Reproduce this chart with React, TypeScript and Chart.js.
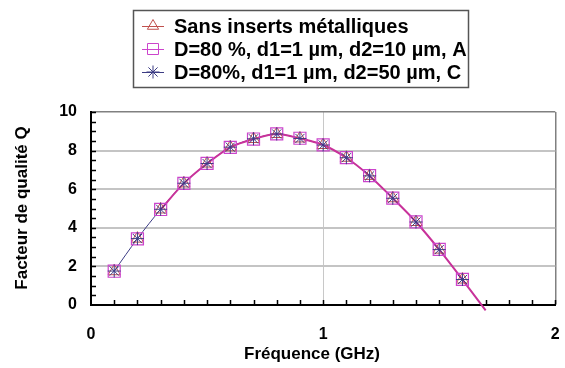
import React, { useEffect, useRef } from 'react';
import { Chart, registerables } from 'chart.js';

Chart.register(...registerables);

// Frequencies (GHz)
const freqGHz = [0.1, 0.2, 0.3, 0.4, 0.5, 0.6, 0.7, 0.8, 0.9, 1.0, 1.1, 1.2, 1.3, 1.4, 1.5, 1.6];
// Quality factor Q for each configuration
const qSansInserts = [1.75, 3.44, 4.95, 6.3, 7.33, 8.17, 8.6, 8.86, 8.63, 8.29, 7.63, 6.69, 5.53, 4.3, 2.87, 1.32];
const qD80A = [1.75, 3.43, 4.95, 6.3, 7.34, 8.17, 8.6, 8.87, 8.64, 8.3, 7.64, 6.7, 5.54, 4.31, 2.88, 1.33];
const qD80C = [1.76, 3.44, 4.96, 6.31, 7.33, 8.18, 8.61, 8.86, 8.63, 8.29, 7.63, 6.69, 5.53, 4.3, 2.87, 1.32];
// Trend curve
const fitX = [0.3, 0.4, 0.5, 0.6, 0.7, 0.8, 0.9, 1.0, 1.1, 1.2, 1.3, 1.4, 1.5, 1.6, 1.7];
const fitY = [4.95, 6.3, 7.33, 8.17, 8.6, 8.86, 8.63, 8.29, 7.63, 6.69, 5.53, 4.3, 2.87, 1.32, -0.28];

const seriesLabels = [
  'Sans inserts métalliques',
  'D=80 %, d1=1 µm, d2=10 µm, A',
  'D=80%, d1=1 µm, d2=50 µm, C',
];
const xTitle = 'Fréquence (GHz)';
const yTitle = 'Facteur de qualité Q';

const RED = '#c0504d';
const MAGENTA = '#cc44cc';
const NAVY = '#3c3c84';
const CURVE = '#c8329a';
const FONT = "'Liberation Sans', Arial, sans-serif";

const pts = (xs: number[], ys: number[]) => xs.map((x, i) => ({ x, y: ys[i] }));

function drawSymbol(ctx: CanvasRenderingContext2D, kind: string, x: number, y: number, color: string) {
  ctx.save();
  ctx.strokeStyle = color;
  ctx.lineWidth = 1;
  ctx.beginPath();
  if (kind === 'triangle') {
    const r = 6.5;
    ctx.moveTo(x, y - r);
    ctx.lineTo(x + r * 0.866, y + r * 0.5);
    ctx.lineTo(x - r * 0.866, y + r * 0.5);
    ctx.closePath();
  } else if (kind === 'rect') {
    const s = 5.5;
    ctx.rect(x - s, y - s, 2 * s, 2 * s);
  } else {
    const r = 6.5;
    ctx.moveTo(x - r, y); ctx.lineTo(x + r, y);
    ctx.moveTo(x, y - r); ctx.lineTo(x, y + r);
    const d = r * 0.707;
    ctx.moveTo(x - d, y - d); ctx.lineTo(x + d, y + d);
    ctx.moveTo(x - d, y + d); ctx.lineTo(x + d, y - d);
  }
  ctx.stroke();
  ctx.restore();
}

const decorPlugin = {
  id: 'decor',
  beforeDatasetsDraw(chart: any) {
    const { ctx, chartArea, scales } = chart;
    ctx.save();
    ctx.strokeStyle = '#000';
    ctx.lineWidth = 1.5;
    ctx.beginPath();
    for (let i = 1; i <= 20; i++) {
      const px = Math.round(scales.x.getPixelForValue(i / 10)) + 0.5;
      ctx.moveTo(px, chartArea.bottom);
      ctx.lineTo(px, chartArea.bottom - 5);
    }
    for (let i = 1; i <= 20; i++) {
      const py = Math.round(scales.y.getPixelForValue(i / 2)) + 0.5;
      ctx.moveTo(chartArea.left, py);
      ctx.lineTo(chartArea.left + 5, py);
    }
    ctx.stroke();
    ctx.restore();
  },
  afterDraw(chart: any) {
    const { ctx } = chart;
    ctx.save();
    ctx.fillStyle = '#000';
    ctx.font = `bold 17px ${FONT}`;
    ctx.textAlign = 'center';
    ctx.textBaseline = 'middle';
    ctx.fillText(xTitle, 312, 354);
    ctx.translate(22, 208);
    ctx.rotate(-Math.PI / 2);
    ctx.fillText(yTitle, 0, 0);
    ctx.restore();

    // legend box
    ctx.save();
    ctx.fillStyle = '#fff';
    ctx.fillRect(133, 10, 335, 78);
    ctx.strokeStyle = '#555';
    ctx.lineWidth = 1.5;
    ctx.strokeRect(133.5, 10.5, 335, 77);
    const colors = [RED, MAGENTA, NAVY];
    const kinds = ['triangle', 'rect', 'star'];
    const baselines = [33, 56, 79];
    ctx.font = `bold 20px ${FONT}`;
    ctx.textAlign = 'left';
    ctx.textBaseline = 'alphabetic';
    for (let i = 0; i < 3; i++) {
      const cy = baselines[i] - 7;
      ctx.strokeStyle = colors[i];
      ctx.lineWidth = 1;
      ctx.beginPath();
      ctx.moveTo(142, cy + 0.5);
      ctx.lineTo(164, cy + 0.5);
      ctx.stroke();
      drawSymbol(ctx, kinds[i], 153, cy, colors[i]);
      ctx.fillStyle = '#000';
      ctx.fillText(seriesLabels[i], 174, baselines[i]);
    }
    ctx.restore();
  },
};

export default function App() {
  const ref = useRef<HTMLCanvasElement>(null);
  useEffect(() => {
    document.body.style.margin = '0';
    const canvas = ref.current!;
    const chart = new Chart(canvas, {
      type: 'scatter',
      data: {
        datasets: [
          {
            label: 'navyLine',
            data: pts(freqGHz, qD80C),
            showLine: true,
            borderColor: NAVY,
            borderWidth: 1,
            tension: 0.3,
            pointRadius: 0,
            order: 10,
          },
          {
            label: 'curve',
            data: pts(fitX, fitY),
            showLine: true,
            borderColor: CURVE,
            borderWidth: 2,
            cubicInterpolationMode: 'monotone',
            pointRadius: 0,
            clip: { left: 0, top: 0, right: 0, bottom: 8 },
            order: 9,
          },
          {
            label: seriesLabels[0],
            data: pts(freqGHz, qSansInserts),
            showLine: false,
            pointStyle: 'triangle',
            pointRadius: 7,
            borderColor: RED,
            backgroundColor: 'rgba(0,0,0,0)',
            pointBorderWidth: 1,
            order: 3,
          },
          {
            label: seriesLabels[1],
            data: pts(freqGHz, qD80A),
            showLine: false,
            pointStyle: 'rect',
            pointRadius: 8.5,
            borderColor: MAGENTA,
            backgroundColor: 'rgba(0,0,0,0)',
            pointBorderWidth: 1.2,
            order: 2,
          },
          {
            label: seriesLabels[2],
            data: pts(freqGHz, qD80C),
            showLine: false,
            pointStyle: 'star',
            pointRadius: 6.5,
            borderColor: NAVY,
            backgroundColor: 'rgba(0,0,0,0)',
            pointBorderWidth: 1,
            order: 1,
          },
        ],
      } as any,
      options: {
        responsive: false,
        animation: false,
        events: [],
        layout: { padding: { top: 112, right: 8, left: 0, bottom: 0 } },
        plugins: { legend: { display: false }, tooltip: { enabled: false } },
        scales: {
          x: {
            type: 'linear',
            min: 0,
            max: 2,
            ticks: {
              stepSize: 1,
              padding: 20,
              color: '#000',
              font: { family: FONT, size: 16, weight: 'bold' },
            },
            grid: {
              drawTicks: false,
              color: (c: any) =>
                c.tick && c.tick.value === 1 ? '#c8c8c8' : c.tick && c.tick.value === 2 ? '#808080' : 'rgba(0,0,0,0)',
              lineWidth: (c: any) => (c.tick && c.tick.value === 2 ? 1.5 : 1),
            },
            border: { display: true, color: '#000', width: 2 },
            afterFit: (s: any) => {
              s.height = 63;
              s.paddingLeft = 0;
              s.paddingRight = 0;
            },
          },
          y: {
            min: 0,
            max: 10,
            ticks: {
              stepSize: 2,
              padding: 14,
              color: '#000',
              font: { family: FONT, size: 16, weight: 'bold' },
            },
            grid: {
              drawTicks: false,
              color: (c: any) =>
                c.tick && c.tick.value === 10 ? '#808080' : c.tick && c.tick.value === 0 ? 'rgba(0,0,0,0)' : '#c4c4c4',
              lineWidth: (c: any) => (c.tick && c.tick.value === 10 ? 1.5 : 2),
            },
            border: { display: true, color: '#000', width: 2 },
            afterFit: (s: any) => {
              s.width = 91;
              s.paddingTop = 0;
              s.paddingBottom = 0;
            },
          },
        },
      } as any,
      plugins: [decorPlugin],
    });
    return () => chart.destroy();
  }, []);
  return <canvas ref={ref} width={565} height={368} style={{ display: 'block' }} />;
}
